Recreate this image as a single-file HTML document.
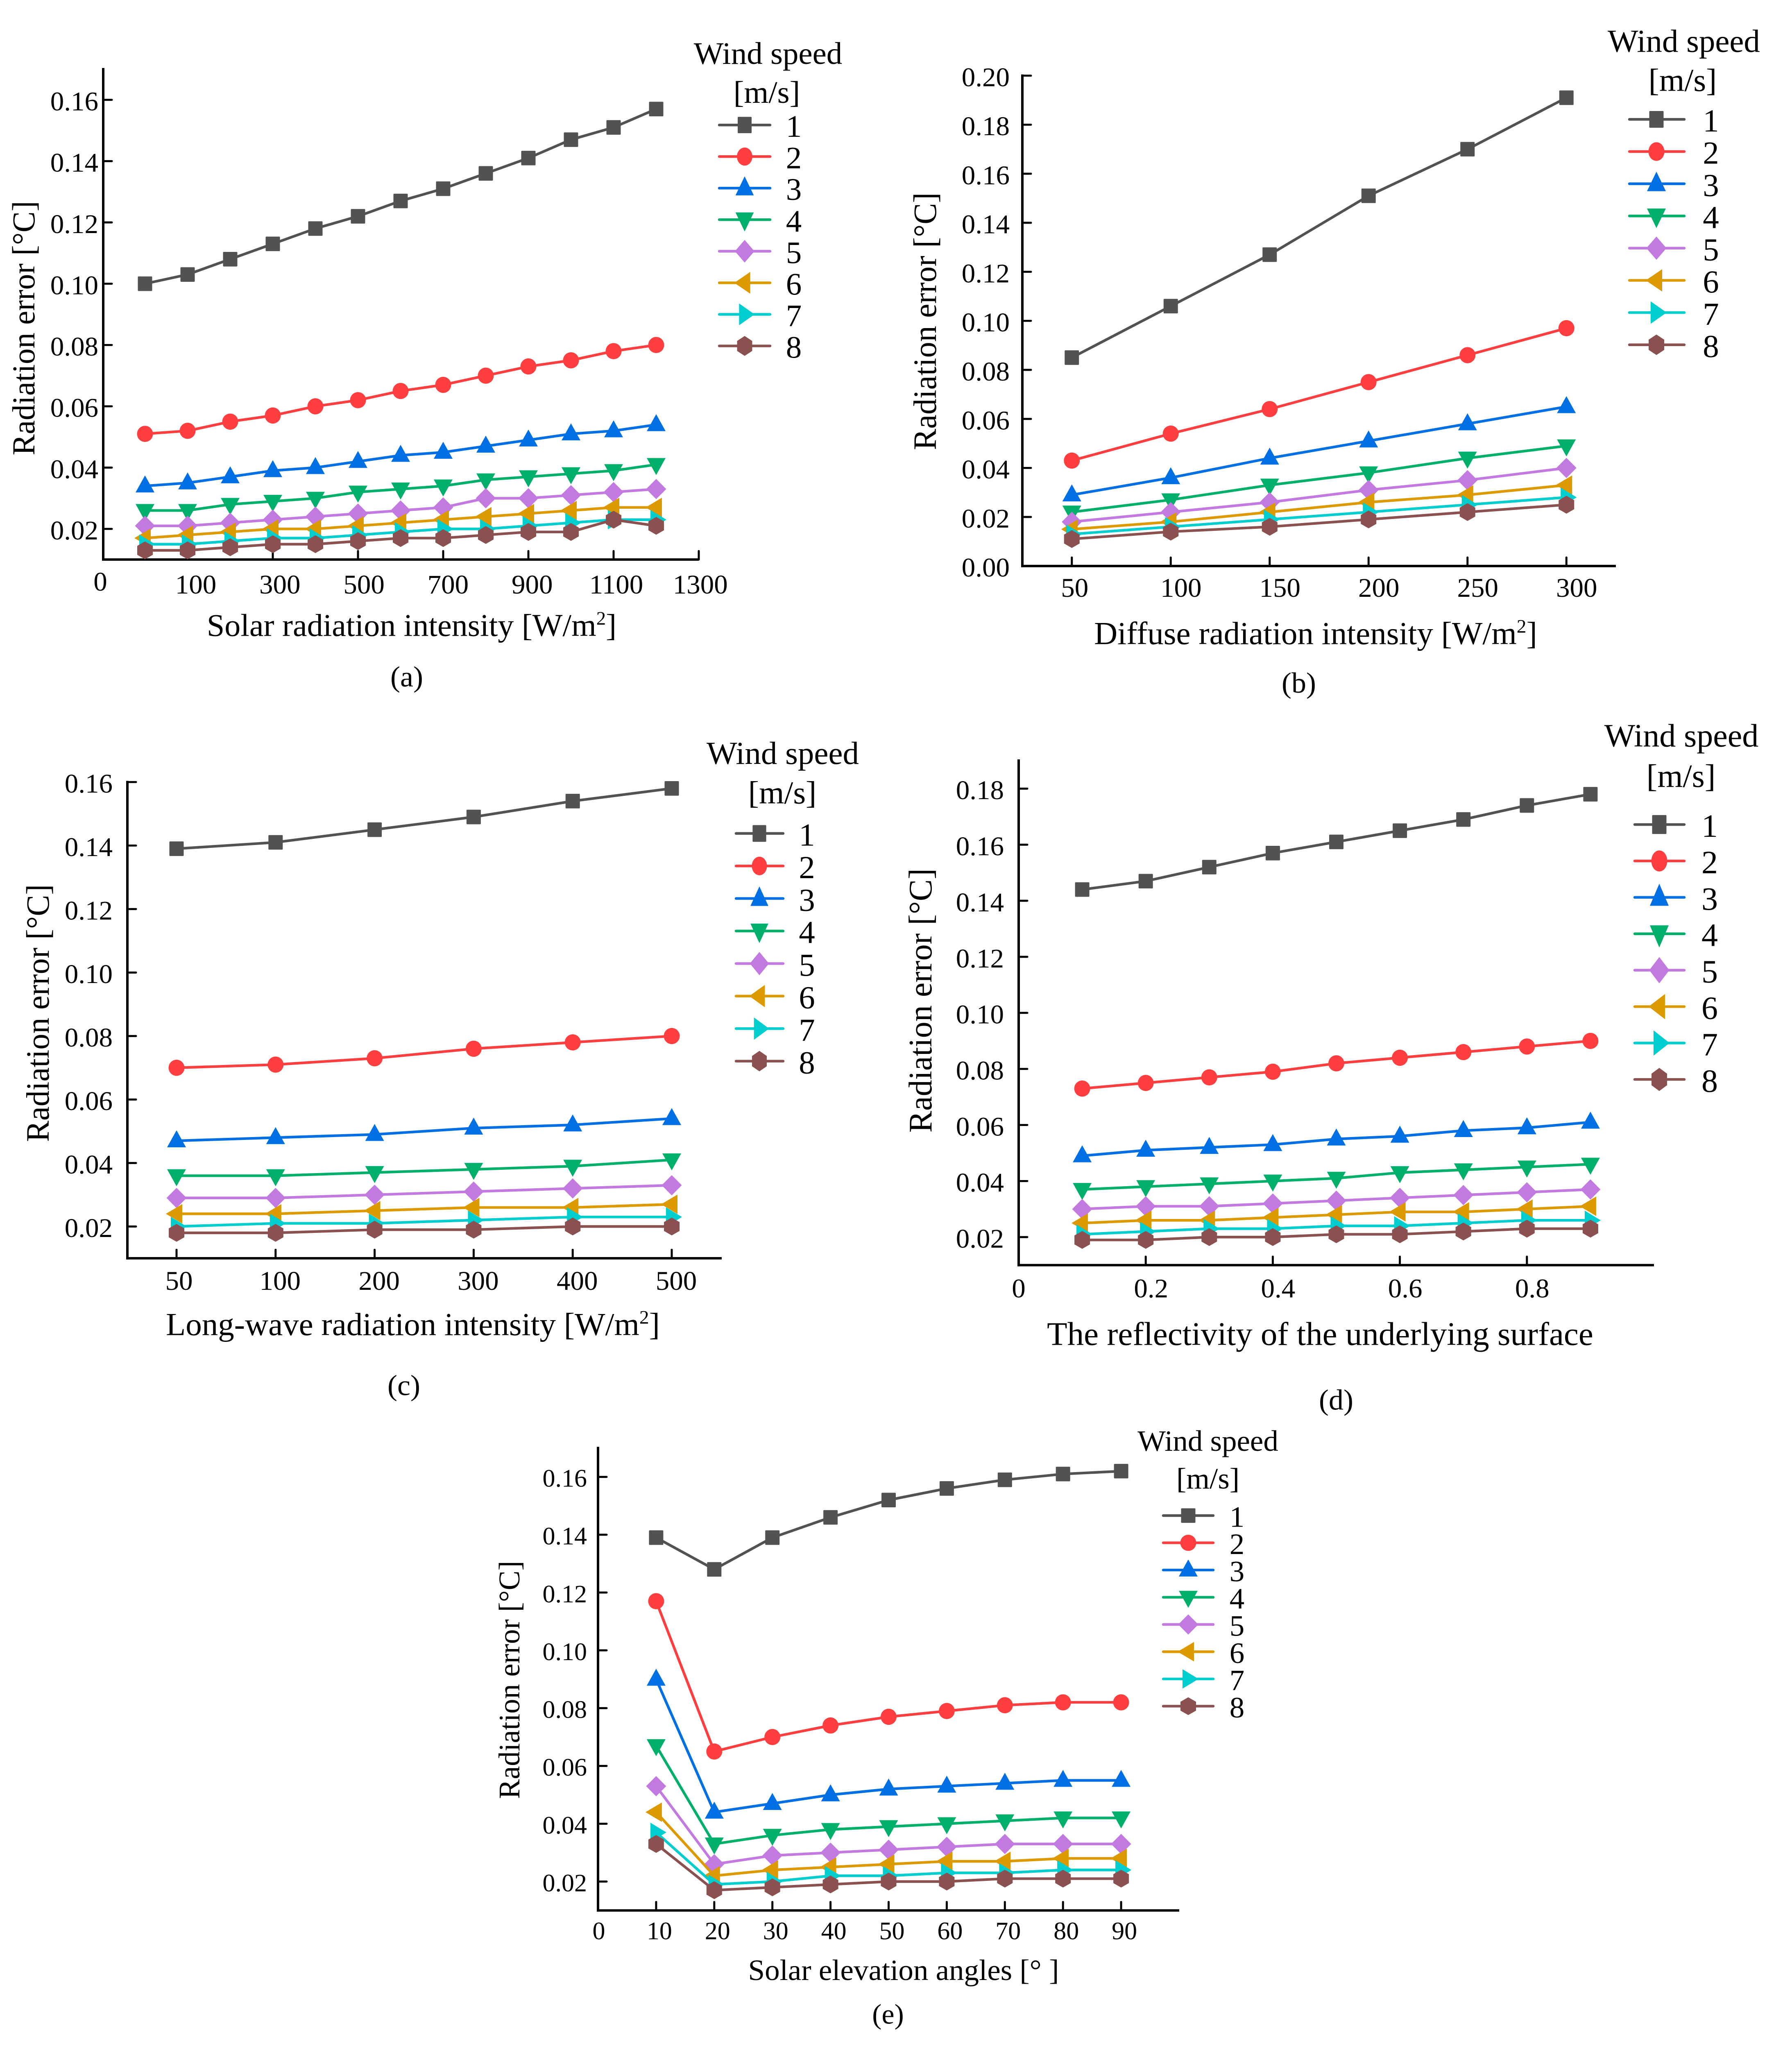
<!DOCTYPE html>
<html>
<head>
<meta charset="utf-8">
<title>Radiation error charts</title>
<style>
html,body{margin:0;padding:0;background:#fff;width:100%;height:100%;overflow:hidden}
svg{display:block;width:100vw;height:100vh}
text{font-family:"Liberation Serif",serif;fill:#000}
</style>
</head>
<body>
<svg id="figure" xmlns="http://www.w3.org/2000/svg" viewBox="0 0 4375 5062" preserveAspectRatio="none"></svg>
<script>
// ---------- data ----------
const windSpeeds = ["1","2","3","4","5","6","7","8"];
const seriesColors = ["#525252","#ff3f3f","#006fe3","#00af6a","#c279e0","#dc9a00","#00cdcd","#8b5050"];

const aCategories = [50,100,200,300,400,500,600,700,800,900,1000,1100,1200];
const aXTickLabels = ["0","100","300","500","700","900","1100","1300"];
const aYTickLabels = ["0.02","0.04","0.06","0.08","0.10","0.12","0.14","0.16"];
const aWind1 = [.100,.103,.108,.113,.118,.122,.127,.131,.136,.141,.147,.151,.157];
const aWind2 = [.051,.052,.055,.057,.060,.062,.065,.067,.070,.073,.075,.078,.080];
const aWind3 = [.034,.035,.037,.039,.040,.042,.044,.045,.047,.049,.051,.052,.054];
const aWind4 = [.026,.026,.028,.029,.030,.032,.033,.034,.036,.037,.038,.039,.041];
const aWind5 = [.021,.021,.022,.023,.024,.025,.026,.027,.030,.030,.031,.032,.033];
const aWind6 = [.017,.018,.019,.020,.020,.021,.022,.023,.024,.025,.026,.027,.027];
const aWind7 = [.015,.015,.016,.017,.017,.018,.019,.020,.020,.021,.022,.023,.023];
const aWind8 = [.013,.013,.014,.015,.015,.016,.017,.017,.018,.019,.019,.023,.021];

const bCategories = [50,100,150,200,250,300];
const bYTickLabels = ["0.00","0.02","0.04","0.06","0.08","0.10","0.12","0.14","0.16","0.18","0.20"];
const bWind1 = [.085,.106,.127,.151,.170,.191];
const bWind2 = [.043,.054,.064,.075,.086,.097];
const bWind3 = [.029,.036,.044,.051,.058,.065];
const bWind4 = [.022,.027,.033,.038,.044,.049];
const bWind5 = [.018,.022,.026,.031,.035,.040];
const bWind6 = [.015,.018,.022,.026,.029,.033];
const bWind7 = [.013,.016,.019,.022,.025,.028];
const bWind8 = [.011,.014,.016,.019,.022,.025];

const cCategories = [50,100,200,300,400,500];
const cYTickLabels = ["0.02","0.04","0.06","0.08","0.10","0.12","0.14","0.16"];
const cWind1 = [.139,.141,.145,.149,.154,.158];
const cWind2 = [.070,.071,.073,.076,.078,.080];
const cWind3 = [.047,.048,.049,.051,.052,.054];
const cWind4 = [.036,.036,.037,.038,.039,.041];
const cWind5 = [.029,.029,.030,.031,.032,.033];
const cWind6 = [.024,.024,.025,.026,.026,.027];
const cWind7 = [.020,.021,.021,.022,.023,.023];
const cWind8 = [.018,.018,.019,.019,.020,.020];

const dCategories = [.1,.2,.3,.4,.5,.6,.7,.8,.9];
const dXTickLabels = ["0","0.2","0.4","0.6","0.8"];
const dYTickLabels = ["0.02","0.04","0.06","0.08","0.10","0.12","0.14","0.16","0.18"];
const dWind1 = [.144,.147,.152,.157,.161,.165,.169,.174,.178];
const dWind2 = [.073,.075,.077,.079,.082,.084,.086,.088,.090];
const dWind3 = [.049,.051,.052,.053,.055,.056,.058,.059,.061];
const dWind4 = [.037,.038,.039,.040,.041,.043,.044,.045,.046];
const dWind5 = [.030,.031,.031,.032,.033,.034,.035,.036,.037];
const dWind6 = [.025,.026,.026,.027,.028,.029,.029,.030,.031];
const dWind7 = [.021,.022,.023,.023,.024,.024,.025,.026,.026];
const dWind8 = [.019,.019,.020,.020,.021,.021,.022,.023,.023];

const eCategories = [10,20,30,40,50,60,70,80,90];
const eXTickLabels = ["0","10","20","30","40","50","60","70","80","90"];
const eYTickLabels = ["0.02","0.04","0.06","0.08","0.10","0.12","0.14","0.16"];
const eWind1 = [.139,.128,.139,.146,.152,.156,.159,.161,.162];
const eWind2 = [.117,.065,.070,.074,.077,.079,.081,.082,.082];
const eWind3 = [.090,.044,.047,.050,.052,.053,.054,.055,.055];
const eWind4 = [.067,.033,.036,.038,.039,.040,.041,.042,.042];
const eWind5 = [.053,.026,.029,.030,.031,.032,.033,.033,.033];
const eWind6 = [.044,.022,.024,.025,.026,.027,.027,.028,.028];
const eWind7 = [.037,.019,.020,.022,.022,.023,.023,.024,.024];
const eWind8 = [.033,.017,.018,.019,.020,.020,.021,.021,.021];

// ---------- helpers ----------
const NS = "http://www.w3.org/2000/svg";
const root = document.getElementById("figure");

function make(tag, parent, name, attrs) {
  const el = document.createElementNS(NS, tag);
  
  
  for (const k in attrs) el.setAttribute(k, attrs[k]);
  parent.appendChild(el);
  return el;
}
function label(parent, name, str, x, y, size, anchor) {
  const t = make("text", parent, name, {x:x, y:y, "font-size":size, "text-anchor":anchor||"middle"});
  t.textContent = str;
  return t;
}
function drawMarker(parent, idx, x, y, s, name) {
  const sx = s[0], sy = s[1];
  const pts = (arr) => arr.map(p => (x + p[0]*sx) + "," + (y + p[1]*sy)).join(" ");
  const fill = seriesColors[idx];
  if (idx === 0) return make("rect", parent, name, {x:x-17.5*sx, y:y-18*sy, width:35*sx, height:36*sy, rx:2, fill:fill});
  if (idx === 1) return make("ellipse", parent, name, {cx:x, cy:y, rx:19.5*sx, ry:20*sy, fill:fill});
  const shapes = {
    2: [[0,-26],[23,16],[-23,16]],
    3: [[0,26],[23,-16],[-23,-16]],
    4: [[0,-25],[24.5,0],[0,25],[-24.5,0]],
    5: [[-26,0],[14,-24],[14,24]],
    6: [[25,0],[-14,-24],[-14,24]],
    7: [[0,-22],[19,-11],[19,11],[0,22],[-19,11],[-19,-11]]
  };
  return make("polygon", parent, name, {points:pts(shapes[idx]), fill:fill});
}

function drawPanel(p) {
  const g = make("g", root, "panel-" + p.id, {});
  const yS = v => p.bottom + (v - p.yMin) / (p.yMax - p.yMin) * (p.top - p.bottom);

  // axes
  make("line", g, "y-axis", {x1:p.left, x2:p.left, y1:p.top-3, y2:p.bottom+3, stroke:"#000","stroke-width":6});
  make("line", g, "x-axis", {x1:p.left-3, x2:p.right, y1:p.bottom, y2:p.bottom, stroke:"#000","stroke-width":6});

  // y ticks
  p.yTicks.forEach(lbl => {
    const v = parseFloat(lbl), y = yS(v);
    make("line", g, "y-tick-" + lbl, {x1:p.left, x2:p.left+21, y1:y, y2:y, stroke:"#000","stroke-width":5,"stroke-linecap":"round"});
    label(g, "y-tick-label-" + lbl, lbl, p.yLabelRight, y + p.tickSize*0.39, p.tickSize, "end");
  });

  // x ticks
  p.xTicks.forEach(t => {
    const x = t.x;
    if (t.tick) make("line", g, "x-tick-" + t.label, {x1:x, x2:x, y1:p.bottom, y2:p.bottom-21, stroke:"#000","stroke-width":5,"stroke-linecap":"round"});
    label(g, "x-tick-label-" + t.label, t.label, x + t.dx, p.xLabelBase + (t.dy||0), p.tickSize);
  });

  // titles
  const xt = make("text", g, "x-axis-title", {x:p.xTitle[0], y:p.xTitle[1], "font-size":p.titleSize, "text-anchor":"middle"});
  if (p.sup) {
    const a = document.createElementNS(NS,"tspan"); a.textContent = p.xTitleText; xt.appendChild(a);
    const b = document.createElementNS(NS,"tspan"); b.textContent = "2";
    b.setAttribute("dy", -p.titleSize*0.36); b.setAttribute("font-size", p.titleSize*0.6); xt.appendChild(b);
    const c = document.createElementNS(NS,"tspan"); c.textContent = "]";
    c.setAttribute("dy", p.titleSize*0.36); xt.appendChild(c);
  } else xt.textContent = p.xTitleText;

  make("text", g, "y-axis-title", {transform:"translate("+p.yTitle[0]+","+p.yTitle[1]+") rotate(-90)", "font-size":p.titleSize, "text-anchor":"middle"}).textContent = "Radiation error [°C]";
  label(g, "panel-caption-" + p.id, "(" + p.id + ")", p.caption[0], p.caption[1], p.captionSize);

  // series
  p.series.forEach((vals, i) => {
    const sg = make("g", g, "series-wind-" + windSpeeds[i], {});
    const pts = vals.map((v, j) => p.xOf(j).toFixed(1) + "," + yS(v).toFixed(1)).join(" ");
    make("polyline", sg, "line-wind-" + windSpeeds[i], {points:pts, fill:"none", stroke:seriesColors[i], "stroke-width":6.5, "stroke-linejoin":"round"});
    vals.forEach((v, j) => drawMarker(sg, i, p.xOf(j), yS(v), [1,1], "point-wind-" + windSpeeds[i] + "-" + p.categories[j]));
  });

  // legend
  const L = p.legend;
  const lg = make("g", g, "legend", {});
  label(lg, "legend-title", "Wind speed", L.titleX, L.titleY, L.size);
  label(lg, "legend-unit", "[m/s]", L.unitX, L.unitY, L.size);
  windSpeeds.forEach((w, i) => {
    const y = L.rowY + i * L.rowStep;
    const e = make("g", lg, "legend-entry-" + w, {});
    make("line", e, "legend-line-" + w, {x1:L.lineX1, x2:L.lineX2, y1:y, y2:y, stroke:seriesColors[i], "stroke-width":6.5, "stroke-linecap":"round"});
    drawMarker(e, i, L.markX, y, L.markerScale, "legend-marker-" + w);
    label(e, "legend-label-" + w, w, L.labelX, y + L.size*0.38, L.size);
  });
}

// ---------- panel a : categorical slots, ticks every second slot ----------
{
  const x0 = 250, step = 104;
  drawPanel({
    id:"a", left:252, right:1706, top:171, bottom:1383, yMin:.01, yMax:.17,
    yTicks:aYTickLabels, yLabelRight:240, tickSize:67, xLabelBase:1467,
    categories:aCategories, xOf:j => x0 + (j+1)*step,
    xTicks:aXTickLabels.map((l,k) => ({label:l, x:x0 + 2*k*step, tick:k>0, dx:k===0?-5:(20 - 2.7*(k-1)), dy:k===0?-7:0})),
    series:[aWind1,aWind2,aWind3,aWind4,aWind5,aWind6,aWind7,aWind8],
    xTitleText:"Solar radiation intensity [W/m", sup:true, titleSize:78,
    xTitle:[1005,1572], yTitle:[84,811], caption:[993,1697], captionSize:72,
    legend:{titleX:1875,titleY:158,unitX:1872,unitY:254,size:77,rowY:309,rowStep:78,lineX1:1756,lineX2:1880,markX:1818,labelX:1938,markerScale:[.97,1.12]}
  });
}

// ---------- panel b ----------
{
  const xS = v => 2496 + (v-25)/300*(3945-2496);
  drawPanel({
    id:"b", left:2496, right:3945, top:187, bottom:1399, yMin:0, yMax:.20,
    yTicks:bYTickLabels, yLabelRight:2465, tickSize:67, xLabelBase:1475,
    categories:bCategories, xOf:j => xS(bCategories[j]),
    xTicks:bCategories.map((c,k) => ({label:String(c), x:xS(c), tick:true, dx:k===0?7:25})),
    series:[bWind1,bWind2,bWind3,bWind4,bWind5,bWind6,bWind7,bWind8],
    xTitleText:"Diffuse radiation intensity [W/m", sup:true, titleSize:79,
    xTitle:[3212,1592], yTitle:[2285,794], caption:[3171,1712], captionSize:72,
    legend:{titleX:4111,titleY:128,unitX:4108,unitY:225,size:79,rowY:295,rowStep:79.6,lineX1:3978,lineX2:4112,markX:4044,labelX:4177,markerScale:[1,1.15]}
  });
}

// ---------- panel c : evenly spaced categories ----------
{
  const x1 = 431, step = 241.8;
  drawPanel({
    id:"c", left:311, right:1762, top:1933, bottom:3110, yMin:.01, yMax:.16,
    yTicks:cYTickLabels, yLabelRight:275, tickSize:67, xLabelBase:3188,
    categories:cCategories, xOf:j => x1 + j*step,
    xTicks:cCategories.map((c,k) => ({label:String(c), x:x1 + k*step, tick:true, dx:k===0?6:11})),
    series:[cWind1,cWind2,cWind3,cWind4,cWind5,cWind6,cWind7,cWind8],
    xTitleText:"Long-wave radiation intensity [W/m", sup:true, titleSize:79,
    xTitle:[1008,3300], yTitle:[119,2504], caption:[986,3448], captionSize:72,
    legend:{titleX:1911,titleY:1888,unitX:1910,unitY:1986,size:79,rowY:2060,rowStep:80.4,lineX1:1797,lineX2:1912,markX:1854,labelX:1970,markerScale:[.95,1.15]}
  });
}

// ---------- panel d ----------
{
  const xS = v => 2487 + v*(4038-2487);
  drawPanel({
    id:"d", left:2487, right:4038, top:1880, bottom:3127, yMin:.01, yMax:.19,
    yTicks:dYTickLabels, yLabelRight:2451, tickSize:67, xLabelBase:3207,
    categories:dCategories, xOf:j => xS(dCategories[j]),
    xTicks:dXTickLabels.map(l => ({label:l, x:xS(parseFloat(l)), tick:l!=="0", dx:l==="0"?0:13})),
    series:[dWind1,dWind2,dWind3,dWind4,dWind5,dWind6,dWind7,dWind8],
    xTitleText:"The reflectivity of the underlying surface", sup:false, titleSize:81,
    xTitle:[3223,3324], yTitle:[2274,2473], caption:[3262,3484], captionSize:72,
    legend:{titleX:4105,titleY:1845,unitX:4104,unitY:1945,size:80,rowY:2038,rowStep:90,lineX1:3991,lineX2:4112,markX:4051,labelX:4174,markerScale:[1,1.3]}
  });
}

// ---------- panel e ----------
{
  const xS = v => 1460 + v/100*(2879-1460);
  drawPanel({
    id:"e", left:1460, right:2879, top:3579, bottom:4722, yMin:.01, yMax:.17,
    yTicks:eYTickLabels, yLabelRight:1433, tickSize:62, xLabelBase:4793,
    categories:eCategories, xOf:j => xS(eCategories[j]),
    xTicks:eXTickLabels.map(l => ({label:l, x:xS(parseFloat(l)), tick:l!=="0", dx:l==="0"?2:8})),
    series:[eWind1,eWind2,eWind3,eWind4,eWind5,eWind6,eWind7,eWind8],
    xTitleText:"Solar elevation angles [° ]", sup:false, titleSize:73,
    xTitle:[2206,4894], yTitle:[1268,4152], caption:[2168,5002], captionSize:70,
    legend:{titleX:2949,titleY:3586,unitX:2949,unitY:3679,size:73,rowY:3746,rowStep:67.3,lineX1:2840,lineX2:2962,markX:2901,labelX:3020,markerScale:[1,1]}
  });
}
</script>
</body>
</html>
